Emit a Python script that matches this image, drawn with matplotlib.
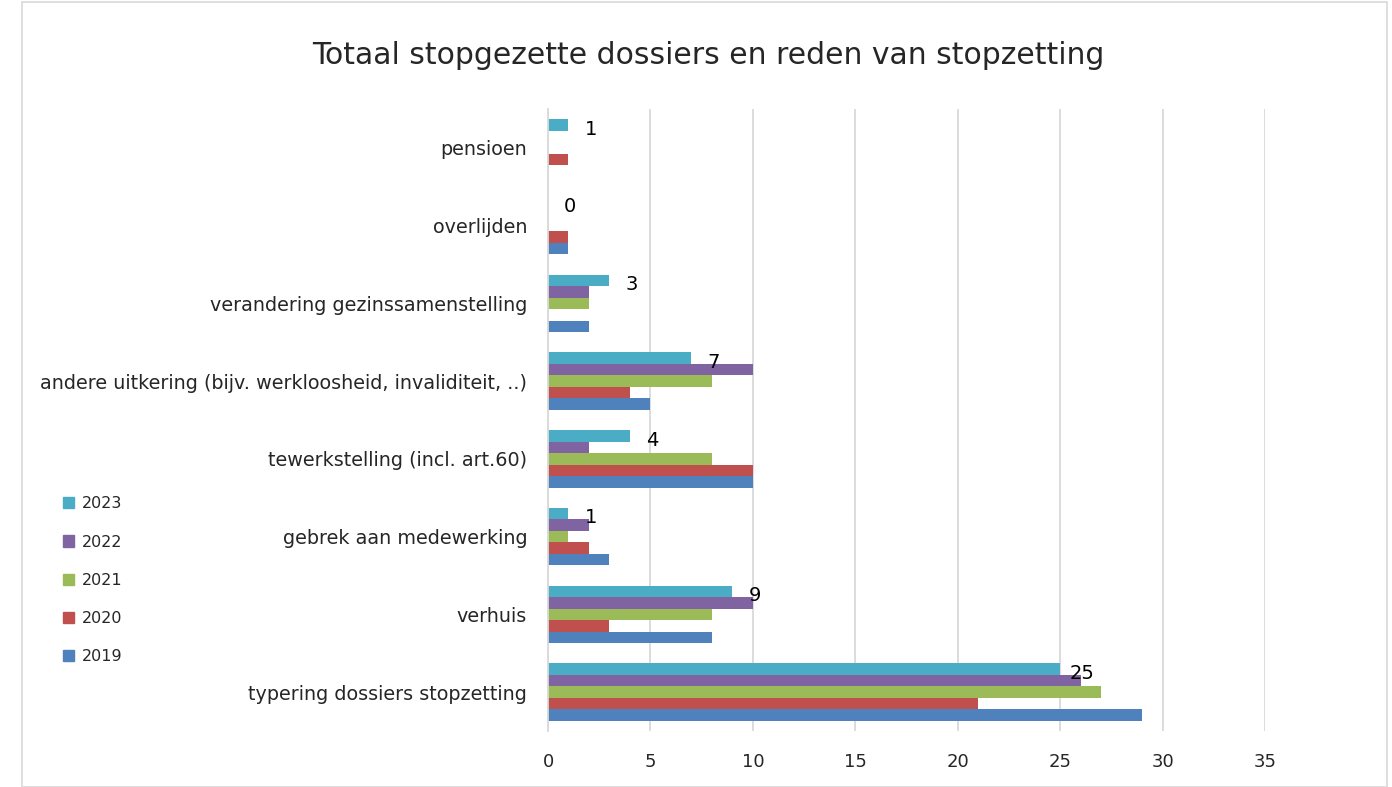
import matplotlib.pyplot as plt
import numpy as np
from matplotlib.patches import Patch, Rectangle

# ── data ──────────────────────────────────────────────
categories = [
    "typering dossiers stopzetting",
    "verhuis",
    "gebrek aan medewerking",
    "tewerkstelling (incl. art.60)",
    "andere uitkering (bijv. werkloosheid, invaliditeit, ..)",
    "verandering gezinssamenstelling",
    "overlijden",
    "pensioen",
]
years = ["2019", "2020", "2021", "2022", "2023"]
v2019 = [29, 8, 3, 10, 5, 2, 1, 0]
v2020 = [21, 3, 2, 10, 4, 0, 1, 1]
v2021 = [27, 8, 1, 8, 8, 2, 0, 0]
v2022 = [26, 10, 2, 2, 10, 2, 0, 0]
v2023 = [25, 9, 1, 4, 7, 3, 0, 1]
colors = ["#4F81BD", "#C0504D", "#9BBB59", "#8064A2", "#4BACC6"]

series = [v2019, v2020, v2021, v2022, v2023]

# ── figure ────────────────────────────────────────────
fig = plt.figure(figsize=(13.92, 7.87), dpi=100)
fig.patches.append(Rectangle((22 / 1392, 0.0), 1365 / 1392, 0.997, transform=fig.transFigure,
                             fill=False, edgecolor="#D9D9D9", linewidth=1.2))
ax = fig.add_axes([548 / 1392, 1 - 731 / 787, 717 / 1392, 622 / 787])

y = np.arange(len(categories))
h = 0.148
for i, (vals, col, yr) in enumerate(zip(series, colors, years)):
    ax.barh(y + (i - 2) * h, vals, height=h, color=col, label=yr)

# data labels for 2023
for yi, v in zip(y, v2023):
    ax.annotate(str(v), (v, yi + 2 * h), xytext=(16, -3), textcoords="offset points",
                ha="center", va="center", fontsize=14, color="black")

ax.set_xlim(0, 35)
ax.set_ylim(-0.5, len(categories) - 0.5)
ax.set_xticks(np.arange(0, 36, 5))
ax.set_yticks(y)
ax.set_yticklabels(categories, fontsize=13.8, color="#262626")
ax.tick_params(axis="x", labelsize=13, labelcolor="#262626", length=0, pad=16)
ax.tick_params(axis="y", length=0, pad=15)
ax.grid(axis="x", color="#D9D9D9", linewidth=1.3)
ax.set_axisbelow(True)
for s in ["top", "right", "bottom"]:
    ax.spines[s].set_visible(False)
ax.spines["left"].set_color("#D9D9D9")
ax.spines["left"].set_linewidth(1.3)

fig.text(0.509, 1 - 55 / 787, "Totaal stopgezette dossiers en reden van stopzetting",
         ha="center", va="center", fontsize=21.5, color="#262626")

handles = [Patch(color=c, label=yr) for c, yr in zip(colors, years)][::-1]
fig.legend(handles=handles, loc="upper left", bbox_to_anchor=(0.035, 1 - 482 / 787),
           frameon=False, fontsize=11.5, handlelength=0.7, handleheight=0.7,
           handletextpad=0.5, labelspacing=1.45, labelcolor="#262626")

plt.savefig("out.png", dpi=100)
